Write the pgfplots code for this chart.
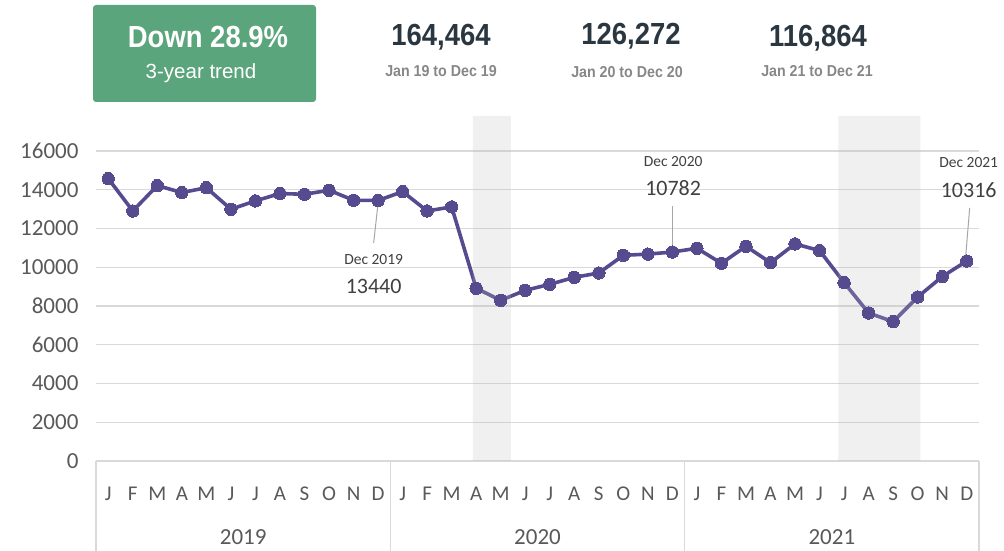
\documentclass[border=0pt]{standalone}
\usepackage{fontspec}
\setmainfont{Carlito}
\newfontfamily\hdfont{Liberation Sans}
\newfontfamily\hdnarrow[FakeStretch=0.9]{Liberation Sans}
\usepackage{pgfplots}
\usepackage{pgfplotstable}
\pgfplotsset{compat=1.18}
\definecolor{linec}{RGB}{87,75,144}
\definecolor{grn}{RGB}{91,165,124}
\definecolor{dark}{RGB}{43,55,64}
\definecolor{subc}{RGB}{135,135,135}
\definecolor{lab}{RGB}{89,89,89}
\definecolor{ann}{RGB}{64,64,64}
\definecolor{gridc}{RGB}{217,217,217}
\definecolor{shadec}{RGB}{188,188,188}

\pgfplotstableread{
m v
0 14570
1 12900
2 14210
3 13850
4 14100
5 12990
6 13420
7 13800
8 13760
9 13970
10 13454
11 13440
12 13900
13 12900
14 13110
15 8910
16 8290
17 8805
18 9115
19 9475
20 9700
21 10612
22 10673
23 10782
24 10975
25 10200
26 11080
27 10235
28 11200
29 10855
30 9205
31 7635
32 7190
33 8460
34 9513
35 10316
}\datatable

\begin{document}
\begin{tikzpicture}[x=1pt,y=1pt]
\path[use as bounding box] (0,0) rectangle (1004,551);
% header
\fill[grn, rounded corners=3pt] (93,449) rectangle (316,546);
\node[white, font=\hdnarrow\bfseries\fontsize{30.5}{32}\selectfont] at (208,514) {Down 28.9\%};
\node[white, font=\hdfont\fontsize{20.5}{24}\selectfont] at (201,478) {3-year trend};
\node[dark, font=\hdnarrow\bfseries\fontsize{30.5}{32}\selectfont] at (441,514) {164,464};
\node[dark, font=\hdnarrow\bfseries\fontsize{30.5}{32}\selectfont] at (631,515) {126,272};
\node[dark, font=\hdnarrow\bfseries\fontsize{30.5}{32}\selectfont] at (818,513) {116,864};
\node[subc, font=\hdnarrow\bfseries\fontsize{15.8}{18}\selectfont] at (441,480) {Jan 19 to Dec 19};
\node[subc, font=\hdnarrow\bfseries\fontsize{15.8}{18}\selectfont] at (627,479) {Jan 20 to Dec 20};
\node[subc, font=\hdnarrow\bfseries\fontsize{15.8}{18}\selectfont] at (817,480) {Jan 21 to Dec 21};

\begin{axis}[
  at={(96pt,90pt)}, anchor=south west,
  scale only axis, width=883pt, height=345pt,
  xmin=-0.5, xmax=35.5, ymin=0, ymax=17800,
  clip=false,
  axis x line=bottom, axis y line=left,
  x axis line style={draw=none}, y axis line style={draw=none},
  major tick length=0pt,
  ytick={0,2000,...,16000},
  ymajorgrids, grid style={gridc, line width=1.3pt},
  scaled y ticks=false,
  yticklabel style={lab, font=\fontsize{23}{26}\selectfont, /pgf/number format/1000 sep={}, xshift=-14pt},
  /pgf/number format/assume math mode=true,
  xtick={0,...,35},
  xticklabels={J,F,M,A,M,J,J,A,S,O,N,D,J,F,M,A,M,J,J,A,S,O,N,D,J,F,M,A,M,J,J,A,S,O,N,D},
  xticklabel style={lab, font=\fontsize{21}{24}\selectfont, anchor=base, yshift=-40pt},
]
\draw[gridc, line width=1.3pt] (axis cs:-0.5,0) -- (axis cs:35.5,0);
\draw[gridc, line width=1.3pt] (axis cs:-0.5,0) -- ++(0pt,-90pt);
\draw[gridc, line width=1.3pt] (axis cs:11.5,0) -- ++(0pt,-90pt);
\draw[gridc, line width=1.3pt] (axis cs:23.5,0) -- ++(0pt,-90pt);
\draw[gridc, line width=1.3pt] (axis cs:35.5,0) -- ++(0pt,-90pt);
\node[lab, font=\fontsize{23}{26}\selectfont, anchor=base] at ([yshift=-84pt]axis cs:5.5,0) {2019};
\node[lab, font=\fontsize{23}{26}\selectfont, anchor=base] at ([yshift=-84pt]axis cs:17.5,0) {2020};
\node[lab, font=\fontsize{23}{26}\selectfont, anchor=base] at ([yshift=-84pt]axis cs:29.5,0) {2021};

\addplot[linec, line width=3.6pt, mark=*, mark size=6.2pt, mark options={fill=linec, line width=0pt}] table[x=m, y=v] {\datatable};

\addplot[draw=none, fill=shadec, fill opacity=0.226, forget plot] coordinates {(14.86,0) (14.86,17800) (16.41,17800) (16.41,0)} \closedcycle;
\addplot[draw=none, fill=shadec, fill opacity=0.226, forget plot] coordinates {(29.77,155) (29.77,17800) (33.11,17800) (33.11,155)} \closedcycle;

% annotations
\draw[gray!70, line width=1pt] (axis cs:10.82,11250) -- (axis cs:11,13300);
\node[ann, font=\fontsize{15.5}{18}\selectfont] at (axis cs:10.82,10374) {Dec 2019};
\node[ann, font=\fontsize{22}{25}\selectfont] at (axis cs:10.82,8981) {13440};
\draw[gray!70, line width=1pt] (axis cs:23,13160) -- (axis cs:23,10900);
\node[ann, font=\fontsize{15.5}{18}\selectfont] at (axis cs:23.03,15432) {Dec 2020};
\node[ann, font=\fontsize{22}{25}\selectfont] at (axis cs:23.03,14090) {10782};
\draw[gray!70, line width=1pt] (axis cs:35.12,13058) -- (axis cs:34.95,10450);
\node[ann, font=\fontsize{15.5}{18}\selectfont] at (axis cs:35.08,15381) {Dec 2021};
\node[ann, font=\fontsize{22}{25}\selectfont] at (axis cs:35.08,13987) {10316};
\end{axis}
\end{tikzpicture}
\end{document}
